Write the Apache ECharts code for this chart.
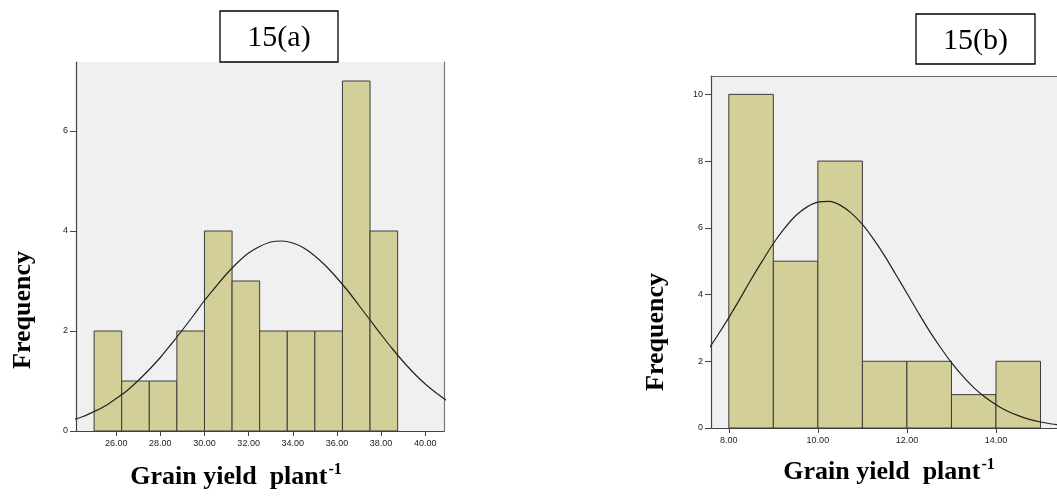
<!DOCTYPE html>
<html>
<head>
<meta charset="utf-8">
<script src="https://cdn.jsdelivr.net/npm/echarts@6/dist/echarts.min.js"></script>
<style>
  html, body { margin: 0; padding: 0; background: #ffffff; }
  #chart { width: 1057px; height: 497px; }
</style>
</head>
<body>
<div id="chart"></div>
<script>
// ---------- Data ----------
// Chart 15(a)
const aBinEdges   = [25.00, 26.25, 27.50, 28.75, 30.00, 31.25, 32.50, 33.75, 35.00, 36.25, 37.50, 38.75];
const aCounts     = [2, 1, 1, 2, 4, 3, 2, 2, 2, 7, 4];
const aCurveX     = [24, 24.5, 25, 25.5, 26, 26.5, 27, 27.5, 28, 28.5, 29, 29.5, 30, 30.5, 31, 31.5, 32, 32.5,
                     33, 33.5, 34, 34.5, 35, 35.5, 36, 36.5, 37, 37.5, 38, 38.5, 39, 39.5, 40, 40.5, 41];
const aCurveY     = [0.22, 0.29, 0.39, 0.50, 0.65, 0.81, 1.01, 1.23, 1.47, 1.74, 2.02, 2.31, 2.61, 2.88, 3.14, 3.37, 3.56, 3.69,
                     3.78, 3.80, 3.76, 3.66, 3.50, 3.30, 3.06, 2.80, 2.51, 2.22, 1.93, 1.65, 1.39, 1.15, 0.94, 0.76, 0.60];
const aXTicks     = [26, 28, 30, 32, 34, 36, 38, 40];
const aYTicks     = [0, 2, 4, 6];

// Chart 15(b)
const bBinEdges   = [8, 9, 10, 11, 12, 13, 14, 15];
const bCounts     = [10, 5, 8, 2, 2, 1, 2];
const bCurveX     = [7, 7.25, 7.5, 7.75, 8, 8.25, 8.5, 8.75, 9, 9.25, 9.5, 9.75, 10, 10.25, 10.5, 10.75, 11, 11.25,
                     11.5, 11.75, 12, 12.25, 12.5, 12.75, 13, 13.25, 13.5, 13.75, 14, 14.25, 14.5, 14.75, 15, 15.25, 15.5, 15.75];
const bCurveY     = [1.46, 1.84, 2.28, 2.78, 3.31, 3.87, 4.45, 5.00, 5.53, 5.98, 6.36, 6.62, 6.77, 6.79, 6.68, 6.44, 6.10, 5.66,
                     5.16, 4.60, 4.04, 3.47, 2.92, 2.42, 1.96, 1.56, 1.21, 0.93, 0.70, 0.51, 0.37, 0.26, 0.18, 0.12, 0.08, 0.055];
const bXTicks     = [8, 10, 12, 14];
const bYTicks     = [0, 2, 4, 6, 8, 10];

const titleA = '15(a)';
const titleB = '15(b)';
const yTitle = 'Frequency';
const xTitleMain = 'Grain yield  plant';
const xTitleSup = '-1';

// ---------- Build ----------
function bins(edges, counts) {
  return counts.map((c, i) => [edges[i], edges[i + 1], c]);
}
function pairs(xs, ys) { return xs.map((x, i) => [x, ys[i]]); }

const BAR_FILL = '#d3cf98';
const BAR_STROKE = '#3c3c3c';
const AXIS_COLOR = '#444444';
const LABEL_FONT = { fontFamily: 'Liberation Sans, Arial, sans-serif', fontSize: 9, color: '#222222' };

function renderBin(params, api) {
  const x0 = api.value(0), x1 = api.value(1), y = api.value(2);
  const p0 = api.coord([x0, y]);
  const p1 = api.coord([x1, 0]);
  return {
    type: 'rect',
    shape: { x: p0[0], y: p0[1], width: p1[0] - p0[0], height: p1[1] - p0[1] },
    style: { fill: BAR_FILL, stroke: BAR_STROKE, lineWidth: 1 }
  };
}

function valueXAxis(gridIndex, min, max, ticks) {
  return {
    type: 'value', gridIndex, min, max, position: 'bottom',
    axisLine: { show: true, onZero: false, lineStyle: { color: AXIS_COLOR, width: 1.2 } },
    axisTick: { show: true, customValues: ticks, length: 5, lineStyle: { color: AXIS_COLOR } },
    axisLabel: Object.assign({ customValues: ticks, margin: 8, formatter: v => Number(v).toFixed(2) }, LABEL_FONT),
    splitLine: { show: false }
  };
}
function valueYAxis(gridIndex, min, max, ticks) {
  return {
    type: 'value', gridIndex, min, max, position: 'left',
    axisLine: { show: true, onZero: false, lineStyle: { color: AXIS_COLOR, width: 1.2 } },
    axisTick: { show: true, customValues: ticks, length: 6, lineStyle: { color: AXIS_COLOR } },
    axisLabel: Object.assign({ customValues: ticks, margin: 8 }, LABEL_FONT),
    splitLine: { show: false }
  };
}
function borderAxis(gridIndex, position, min, max, color) {
  return {
    type: 'value', gridIndex, min, max, position,
    axisLine: { show: true, onZero: false, lineStyle: { color, width: 1.2 } },
    axisTick: { show: false }, axisLabel: { show: false }, splitLine: { show: false }
  };
}

const serifBold = { fontFamily: 'Liberation Serif, Times New Roman, serif', fontWeight: 'bold', fill: '#000' };

function xTitle(cx, y) {
  return {
    type: 'text', x: cx, y: y,
    style: {
      text: '{m|' + xTitleMain + '}{s|' + xTitleSup + '}',
      align: 'center', verticalAlign: 'bottom',
      rich: {
        m: Object.assign({ fontSize: 26 }, serifBold),
        s: Object.assign({ fontSize: 16, padding: [0, 0, 14, 1] }, serifBold)
      }
    }
  };
}
function yTitleEl(cx, cy) {
  return {
    type: 'text', x: cx, y: cy, rotation: Math.PI / 2,
    style: Object.assign({ text: yTitle, fontSize: 26, align: 'center', verticalAlign: 'middle' }, serifBold)
  };
}
function titleBox(x, y, w, h, text) {
  return {
    type: 'group', x, y, z: 100,
    children: [
      { type: 'rect', shape: { x: 0, y: 0, width: w, height: h }, style: { fill: '#fff', stroke: '#000', lineWidth: 1.3 } },
      { type: 'text', x: w / 2, y: h / 2 + 2, style: { text, fontFamily: 'Liberation Serif, Times New Roman, serif', fontSize: 30, fill: '#000', align: 'center', verticalAlign: 'middle' } }
    ]
  };
}

const chart = echarts.init(document.getElementById('chart'), null, { renderer: 'canvas' });

const option = {
  backgroundColor: '#ffffff',
  animation: false,
  grid: [
    { left: 76, top: 62, width: 368, height: 369, show: true, backgroundColor: '#f0f0f0', borderWidth: 0, containLabel: false },
    { left: 711, top: 76, right: 0, height: 352, show: true, backgroundColor: '#f0f0f0', borderWidth: 0, containLabel: false }
  ],
  xAxis: [
    valueXAxis(0, 24.18, 40.85, aXTicks),
    valueXAxis(1, 7.60, 15.37, bXTicks),
    borderAxis(1, 'top', 7.60, 15.37, '#666666')
  ],
  yAxis: [
    valueYAxis(0, 0, 7.38, aYTicks),
    valueYAxis(1, 0, 10.55, bYTicks),
    borderAxis(0, 'right', 0, 7.38, '#777777')
  ],
  series: [
    { type: 'custom', xAxisIndex: 0, yAxisIndex: 0, renderItem: renderBin, encode: { x: [0, 1], y: 2 }, data: bins(aBinEdges, aCounts), z: 2 },
    { type: 'line', xAxisIndex: 0, yAxisIndex: 0, data: pairs(aCurveX, aCurveY), smooth: 0.3, showSymbol: false, clip: true,
      lineStyle: { color: '#222222', width: 1.2 }, z: 5 },
    { type: 'custom', xAxisIndex: 1, yAxisIndex: 1, renderItem: renderBin, encode: { x: [0, 1], y: 2 }, data: bins(bBinEdges, bCounts), z: 2 },
    { type: 'line', xAxisIndex: 1, yAxisIndex: 1, data: pairs(bCurveX, bCurveY), smooth: 0.3, showSymbol: false, clip: true,
      lineStyle: { color: '#222222', width: 1.2 }, z: 5 }
  ],
  graphic: [
    titleBox(220, 11, 118, 51, titleA),
    titleBox(916, 14, 119, 50, titleB),
    yTitleEl(23, 310),
    yTitleEl(656, 332),
    xTitle(236, 492),
    xTitle(889, 487)
  ]
};
chart.setOption(option);
</script>
</body>
</html>
